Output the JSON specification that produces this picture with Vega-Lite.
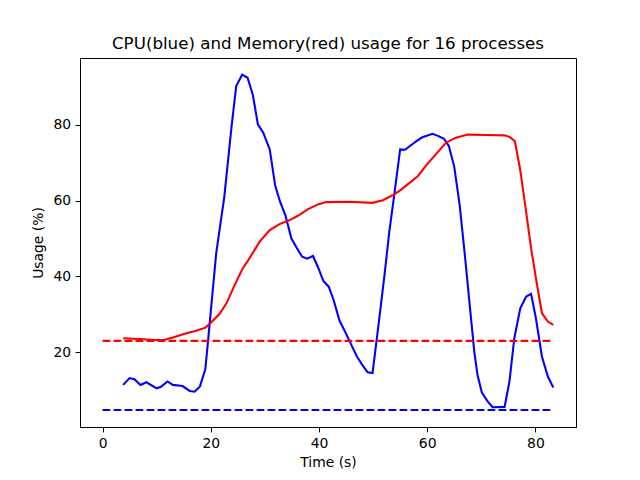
{
  "$schema": "https://vega.github.io/schema/vega-lite/v6.json",
  "width": 496,
  "height": 369,
  "autosize": {"type": "none"},
  "padding": {"left": 80, "top": 58, "right": 64, "bottom": 53},
  "background": "white",
  "title": {
    "text": "CPU(blue) and Memory(red) usage for 16 processes",
    "font": "DejaVu Sans",
    "fontSize": 16.7,
    "fontWeight": "normal",
    "color": "black",
    "anchor": "middle",
    "baseline": "alphabetic",
    "offset": 8,
    "dy": 16
  },
  "config": {
    "view": {"stroke": "black", "strokeWidth": 1},
    "axis": {
      "grid": false,
      "domainColor": "black",
      "domainWidth": 1,
      "tickColor": "black",
      "tickWidth": 1,
      "tickSize": 4.9,
      "labelFont": "DejaVu Sans",
      "labelFontSize": 13.9,
      "labelColor": "black",
      "labelPadding": 4.5,
      "titleFont": "DejaVu Sans",
      "titleFontSize": 13.9,
      "titleFontWeight": "normal",
      "titleColor": "black"
    }
  },
  "datasets": {
    "cpu": [
      {"t":3.8,"v":11.4},{"t":5.0,"v":13.2},{"t":5.9,"v":12.9},{"t":7.0,"v":11.4},{"t":8.1,"v":12.1},{"t":10.0,"v":10.5},{"t":10.8,"v":10.9},{"t":12.0,"v":12.3},{"t":13.0,"v":11.4},{"t":14.8,"v":11.1},{"t":16.1,"v":9.8},{"t":17.0,"v":9.6},{"t":18.0,"v":11.0},{"t":19.0,"v":15.6},{"t":19.6,"v":24.6},{"t":21.0,"v":46.1},{"t":22.5,"v":61.0},{"t":23.8,"v":79.0},{"t":24.7,"v":90.2},{"t":25.8,"v":93.2},{"t":26.8,"v":92.4},{"t":27.8,"v":87.7},{"t":28.7,"v":80.1},{"t":29.7,"v":77.9},{"t":30.9,"v":73.5},{"t":31.9,"v":64.0},{"t":32.8,"v":59.7},{"t":33.8,"v":56.1},{"t":34.9,"v":50.0},{"t":35.9,"v":47.5},{"t":36.9,"v":45.2},{"t":37.8,"v":44.7},{"t":38.9,"v":45.4},{"t":39.8,"v":42.5},{"t":40.8,"v":38.8},{"t":41.8,"v":37.3},{"t":42.7,"v":33.8},{"t":43.8,"v":28.3},{"t":44.9,"v":25.2},{"t":46.0,"v":21.9},{"t":47.0,"v":18.9},{"t":48.0,"v":16.7},{"t":49.0,"v":14.7},{"t":49.9,"v":14.5},{"t":51.0,"v":27.2},{"t":52.1,"v":40.3},{"t":53.0,"v":51.8},{"t":54.0,"v":62.5},{"t":55.0,"v":73.5},{"t":55.9,"v":73.4},{"t":57.0,"v":74.6},{"t":58.0,"v":75.7},{"t":59.1,"v":76.7},{"t":61.0,"v":77.6},{"t":62.1,"v":77.0},{"t":63.1,"v":76.3},{"t":64.0,"v":74.4},{"t":65.0,"v":68.9},{"t":66.0,"v":58.8},{"t":66.9,"v":46.5},{"t":67.8,"v":33.3},{"t":68.7,"v":20.2},{"t":69.3,"v":14.0},{"t":70.1,"v":9.4},{"t":71.2,"v":7.0},{"t":72.1,"v":5.5},{"t":74.3,"v":5.6},{"t":75.2,"v":12.3},{"t":76.1,"v":23.7},{"t":77.2,"v":31.6},{"t":78.3,"v":34.7},{"t":79.2,"v":35.4},{"t":80.1,"v":28.9},{"t":81.2,"v":18.9},{"t":82.3,"v":13.6},{"t":83.3,"v":10.7}
    ],
    "mem": [
      {"t":3.8,"v":23.7},{"t":6.8,"v":23.5},{"t":9.0,"v":23.3},{"t":11.1,"v":23.2},{"t":13.0,"v":23.9},{"t":15.5,"v":25.0},{"t":17.3,"v":25.7},{"t":19.0,"v":26.5},{"t":20.1,"v":27.9},{"t":21.6,"v":30.1},{"t":22.9,"v":32.9},{"t":24.4,"v":37.7},{"t":25.9,"v":42.1},{"t":27.2,"v":44.9},{"t":29.0,"v":49.1},{"t":30.9,"v":52.2},{"t":32.7,"v":53.8},{"t":34.5,"v":54.8},{"t":36.1,"v":56.0},{"t":37.9,"v":57.7},{"t":39.8,"v":59.0},{"t":41.3,"v":59.6},{"t":45.6,"v":59.7},{"t":49.9,"v":59.4},{"t":51.8,"v":60.1},{"t":53.6,"v":61.4},{"t":55.2,"v":62.9},{"t":56.5,"v":64.4},{"t":58.3,"v":66.5},{"t":59.8,"v":69.3},{"t":61.7,"v":72.4},{"t":63.5,"v":75.3},{"t":65.3,"v":76.6},{"t":67.5,"v":77.4},{"t":70.9,"v":77.3},{"t":74.3,"v":77.2},{"t":75.2,"v":76.8},{"t":76.2,"v":75.7},{"t":77.2,"v":68.0},{"t":78.2,"v":57.9},{"t":79.2,"v":47.4},{"t":80.2,"v":38.6},{"t":81.2,"v":30.3},{"t":82.3,"v":28.1},{"t":83.3,"v":27.2}
    ],
    "cpuBase": [{"t":0,"v":4.8},{"t":83.3,"v":4.8}],
    "memBase": [{"t":0,"v":23.0},{"t":83.3,"v":23.0}]
  },
  "encoding": {
    "x": {
      "field": "t", "type": "quantitative",
      "scale": {"domain": [-4.17, 87.5], "nice": false, "zero": false},
      "axis": {"values": [0, 20, 40, 60, 80], "title": "Time (s)", "titlePadding": 5}
    },
    "y": {
      "field": "v", "type": "quantitative",
      "scale": {"domain": [0.3, 97.6], "nice": false, "zero": false},
      "axis": {"values": [20, 40, 60, 80], "title": "Usage (%)", "titlePadding": 7}
    }
  },
  "layer": [
    {"data": {"name": "cpu"}, "mark": {"type": "line", "color": "#0000ff", "strokeWidth": 2.08, "clip": true}},
    {"data": {"name": "mem"}, "mark": {"type": "line", "color": "#ff0000", "strokeWidth": 2.08, "clip": true}},
    {"data": {"name": "cpuBase"}, "mark": {"type": "line", "color": "#0000ff", "strokeWidth": 2.08, "strokeDash": [7.7, 3.3]}},
    {"data": {"name": "memBase"}, "mark": {"type": "line", "color": "#ff0000", "strokeWidth": 2.08, "strokeDash": [7.7, 3.3]}}
  ]
}
